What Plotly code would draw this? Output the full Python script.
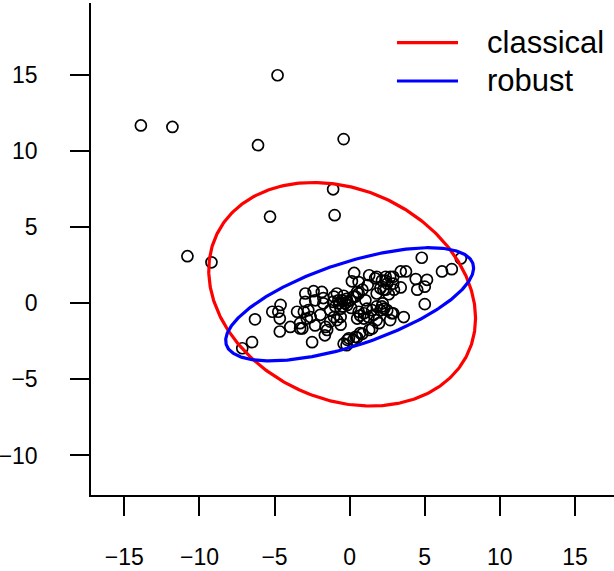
import numpy as np
import plotly.graph_objects as go

# Observations (x, y)
x_vals = [
    -4.8, -13.9, -11.8, -6.1, -0.4, -1.1, -5.3, -1.0, -10.8, -9.2,
    4.8, 6.15, 6.8, 7.4, 3.75, 4.4, 5.15, 3.4, 4.5, 5.0, 5.0, 3.6, 2.8, 3.4,
    0.3, 1.3, 1.8, 2.4, 2.9, 0.15, 0.6, 1.2, 1.7, 2.4, 2.05, 2.4, 1.8, 2.9, 2.6,
    2.7, 2.5, 2.15, 2.25, 2.95,
    -2.95, -2.4, -1.85, -1.75, -2.3, -2.95, -1.75, -0.85, -0.75, -1.05, -0.5,
    -0.95, -1.3, -0.6, -0.15, -0.15, 0.05, 0.4, 0.6, 0.85, 0.5, 0.25, 1.05,
    -0.3, -0.45, -0.2, 0.1, -0.7, -1.1, -0.4,
    -4.6, -4.75, -5.15, -6.3, -6.5, -7.15, -4.65, -4.65, -3.95, -3.3, -3.3,
    -3.5, -2.75, -2.6, -3.05, -2.85, -3.15,
    -1.95, -1.6, -1.5, -1.65, -2.5, -2.3, -1.05, -1.3, -0.85, -0.6, -0.6,
    0.5, 0.7, 0.95, 1.25, 1.6, 2.05, 2.15, 0.6, 0.95, 1.15, 1.5, 1.8, 2.2,
    2.5, 1.8, 1.3, 0.7, 1.5, 1.95, 0.85, 0.5, -0.05, -0.4, 0.25, -0.15, 0.4,
    -0.2, 2.3, 2.9, 2.7,
]
y_vals = [
    15.0, 11.7, 11.6, 10.4, 10.8, 7.5, 5.7, 5.8, 3.1, 2.7,
    3.0, 2.1, 2.25, 2.95, 2.1, 1.6, 1.55, 1.05, 0.9, 1.1, -0.05, -0.9, -0.65, 2.1,
    2.0, 1.85, 1.75, 1.75, 1.75, 1.45, 1.4, 1.2, 1.65, 1.5, 1.0, 0.9, 0.65, 1.3, 0.6,
    1.75, 1.3, 1.5, 0.9, 0.9,
    0.65, 0.8, 0.75, 0.35, 0.2, 0.1, 0.0, 0.65, 0.2, 0.45, 0.2,
    -0.2, -0.45, -0.35, 0.1, -0.1, 0.2, 0.45, 0.65, 0.9, 0.75, 0.45, 0.2,
    0.0, -0.2, 0.3, -0.3, 0.0, 0.1, 0.5,
    -0.1, -0.55, -0.55, -1.05, -2.55, -2.95, -1.85, -1.0, -1.55, -1.65, -1.3,
    -0.55, -0.45, -0.9, -0.55, -1.0, -1.65,
    -0.75, -1.55, -1.75, -2.1, -2.55, -1.45, -0.9, -1.2, -1.1, -0.9, -1.4,
    -1.0, -0.8, -1.0, -0.9, -0.75, -0.45, -0.2, -0.55, -0.65, -0.35, -0.45, -0.2, 0.0,
    -0.45, -1.1, -1.75, -1.95, -1.65, -1.3, -2.0, -2.25, -2.3, -2.65, -2.4, -2.4, -2.2,
    -2.75, -0.35, -0.65, -1.1,
]

# Location / scatter estimates and 97.5% tolerance level
classical_center = [-0.5, 0.6]
classical_cov = [[10.69, -1.90], [-1.90, 7.32]]
robust_center = [0.0, -0.06]
robust_cov = [[9.23, 2.67], [2.67, 1.876]]
chi2_level = 7.378

x_ticks = [-15, -10, -5, 0, 5, 10, 15]
y_ticks = [-10, -5, 0, 5, 10, 15]
legend_labels = ["classical", "robust"]
legend_colors = ["#FF0000", "#0000FF"]


def ellipse(center, cov, level, n=400):
    vals, vecs = np.linalg.eigh(np.array(cov))
    t = np.linspace(0, 2 * np.pi, n)
    circ = np.vstack([np.cos(t), np.sin(t)])
    pts = vecs @ (np.sqrt(vals * level)[:, None] * circ)
    return pts[0] + center[0], pts[1] + center[1]


fig = go.Figure()

fig.add_trace(go.Scatter(
    x=x_vals, y=y_vals, mode="markers",
    marker=dict(symbol="circle-open", size=11, color="black",
                line=dict(width=1.7, color="black")),
    showlegend=False, hoverinfo="skip",
))

for center, cov, color in [(classical_center, classical_cov, legend_colors[0]),
                           (robust_center, robust_cov, legend_colors[1])]:
    ex, ey = ellipse(center, cov, chi2_level)
    fig.add_trace(go.Scatter(x=ex, y=ey, mode="lines",
                             line=dict(color=color, width=3.2),
                             showlegend=False, hoverinfo="skip"))

# Legend drawn by hand: line sample plus label
legend_y = [0.9193, 0.8415]
for label, color, ly in zip(legend_labels, legend_colors, legend_y):
    fig.add_shape(type="line", xref="paper", yref="paper",
                  x0=0.585, x1=0.7017, y0=ly, y1=ly,
                  line=dict(color=color, width=3.2))
    fig.add_annotation(xref="paper", yref="paper", x=0.753, y=ly,
                       xanchor="left", yanchor="middle", text=label,
                       showarrow=False,
                       font=dict(size=31, color="black",
                                 family="Liberation Sans, Arial, sans-serif"))

axis_common = dict(
    showgrid=False, zeroline=False, showline=True, linecolor="black",
    linewidth=1.5, ticks="outside", ticklen=19, tickwidth=1.5,
    tickcolor="black", mirror=False, automargin=False,
    tickfont=dict(size=23, color="black",
                  family="Liberation Sans, Arial, sans-serif"),
)

fig.update_layout(
    width=614, height=571,
    margin=dict(l=91, r=0, t=3, b=76),
    paper_bgcolor="white", plot_bgcolor="white",
    xaxis=dict(range=[-17.22, 17.6], tickvals=x_ticks, ticklabelstandoff=22,
               **axis_common),
    yaxis=dict(range=[-12.6, 19.75], tickvals=y_ticks, ticklabelstandoff=28,
               **axis_common),
)

fig.write_html("out.html")
